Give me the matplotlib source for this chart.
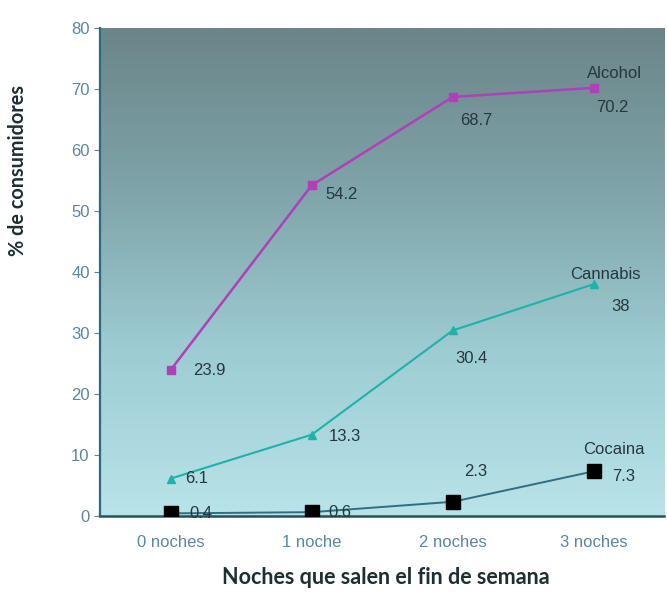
import numpy as np
import matplotlib
matplotlib.use("Agg")
import matplotlib.pyplot as plt
from matplotlib.colors import LinearSegmentedColormap

CATS = ["0 noches", "1 noche", "2 noches", "3 noches"]
ALCOHOL = [23.9, 54.2, 68.7, 70.2]
CANNABIS = [6.1, 13.3, 30.4, 38]
COCAINA = [0.4, 0.6, 2.3, 7.3]
ALC_LBL = ["23.9", "54.2", "68.7", "70.2"]
CAN_LBL = ["6.1", "13.3", "30.4", "38"]
COC_LBL = ["0.4", "0.6", "2.3", "7.3"]
YTICKS = [0, 10, 20, 30, 40, 50, 60, 70, 80]

TICKC = "#5a86a0"; DARK = "#1e2e33"
ALC_C = "#b040b8"; CAN_C = "#1fb3a8"; COC_LINE = "#2f6f80"

fig = plt.figure(figsize=(6.67, 5.97), dpi=100)
ax = fig.add_axes([0.150, 0.136, 0.846, 0.817])
x = np.arange(len(CATS))

# gradient background
grad = LinearSegmentedColormap.from_list("bg", ["#b8e3e9", "#9dcdd3", "#7fa4a9", "#6b8589"])
ax.imshow(np.linspace(0, 1, 256).reshape(-1, 1), cmap=grad, origin="lower", aspect="auto",
          extent=(-0.5, 3.5, 0, 80), zorder=0)

ax.plot(x, ALCOHOL, color=ALC_C, lw=1.8, marker="s", ms=6, zorder=3)
ax.plot(x, CANNABIS, color=CAN_C, lw=1.5, marker="^", ms=6, zorder=3)
ax.plot(x, COCAINA, color=COC_LINE, lw=1.4, zorder=3)
ax.plot(x, COCAINA, ls="none", marker="s", ms=10, color="black", zorder=4)

lbl = dict(fontsize=12, color="#25383d", family="Liberation Sans", zorder=5)
# (dx, dy, ha) offsets of the value labels, per point
ALC_OFF = [(0.16, 0.0, "left"), (0.10, -1.5, "left"), (0.05, -3.8, "left"), (0.13, -3.2, "center")]
CAN_OFF = [(0.10, 0.0, "left"), (0.12, -0.3, "left"), (0.02, -4.6, "left"), (0.19, -3.7, "center")]
COC_OFF = [(0.13, 0.0, "left"), (0.12, 0.0, "left"), (0.08, 5.0, "left"), (0.21, -0.8, "center")]
for vals, labs, offs in [(ALCOHOL, ALC_LBL, ALC_OFF), (CANNABIS, CAN_LBL, CAN_OFF),
                         (COCAINA, COC_LBL, COC_OFF)]:
    for i, (v, t, (dx, dy, ha)) in enumerate(zip(vals, labs, offs)):
        ax.text(x[i] + dx, v + dy, t, ha=ha, va="center", **lbl)

ax.text(x[3] + 0.15, ALCOHOL[3] + 2.3, "Alcohol", ha="center", va="center", **lbl)
ax.text(x[3] + 0.08, CANNABIS[3] + 1.5, "Cannabis", ha="center", va="center", **lbl)
ax.text(x[3] + 0.14, COCAINA[3] + 3.5, "Cocaina", ha="center", va="center", **lbl)

ax.set_xlim(-0.5, 3.5)
ax.set_ylim(0, 80)
ax.set_yticks(YTICKS)
ax.set_xticks(x)
ax.set_xticklabels(CATS)
ax.tick_params(axis="both", colors=TICKC, labelsize=12, direction="out", length=4,
               labelcolor=TICKC)
ax.tick_params(axis="x", length=0, pad=14)
for lab in ax.get_xticklabels() + ax.get_yticklabels():
    lab.set_family("Liberation Sans")

ax.spines["left"].set_color("#2d6a7d"); ax.spines["left"].set_linewidth(1.6)
ax.spines["bottom"].set_color("#27505c"); ax.spines["bottom"].set_linewidth(1.8)
ax.spines["top"].set_visible(False); ax.spines["right"].set_visible(False)

fig.text(0.027, 0.715, "% de consumidores", rotation=90, ha="center", va="center",
         fontsize=14.3, fontweight="bold", color=DARK, family="Lato")
fig.text(0.578, 0.032, "Noches que salen el fin de semana", ha="center", va="center",
         fontsize=15.5, fontweight="bold", color=DARK, family="Lato")

fig.savefig("out.png", dpi=100)
